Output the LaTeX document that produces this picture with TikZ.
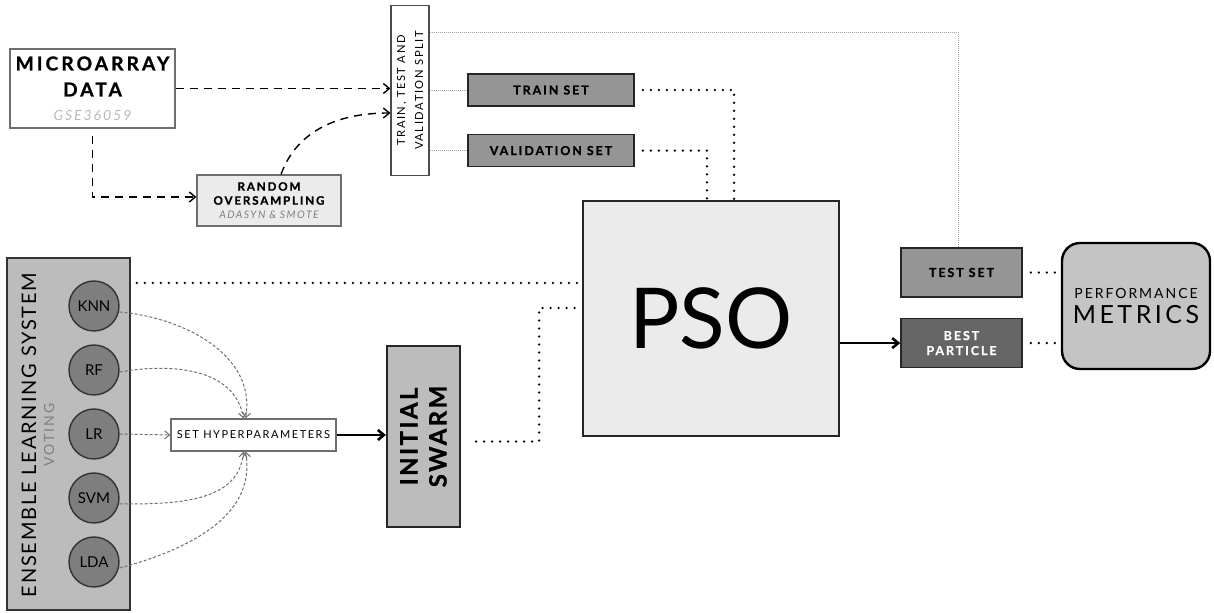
\documentclass[tikz,border=0pt]{standalone}
\usepackage{fontspec}
\setmainfont{Lato}
\newfontfamily\widefont[LetterSpace=14]{Lato}
\newfontfamily\heavyfont[LetterSpace=16, FakeBold=1]{Lato}
\usepackage{tikz}
\usetikzlibrary{arrows.meta,positioning,calc}

\definecolor{setgray}{HTML}{959595}
\definecolor{bestgray}{HTML}{656565}
\definecolor{psogray}{HTML}{EBEBEB}
\definecolor{ensgray}{HTML}{BCBCBC}
\definecolor{metgray}{HTML}{C4C4C4}
\definecolor{modelgray}{HTML}{7E7E7E}
\definecolor{edgegray}{HTML}{6E6E6E}

\begin{document}
\begin{tikzpicture}[
		x=0.5pt, y=-0.5pt,
		box/.style      = {draw=edgegray, rectangle, align=center, inner sep=0pt, line width=0.6pt},
		datbox/.style   = {box, fill=white, minimum width=82.5pt, minimum height=39.5pt},
		sampbox/.style  = {box, fill=psogray, minimum width=72pt, minimum height=25.5pt},
		splitbox/.style = {box, draw=black!70, fill=white, minimum width=85pt, minimum height=19pt, rotate=90},
		setbox/.style   = {box, draw=black!85, fill=setgray, minimum width=83pt, minimum height=16pt, line width=0.8pt},
		psobox/.style   = {box, draw=black!85, fill=psogray, minimum width=128pt, minimum height=117.5pt, line width=0.9pt},
		endbox/.style   = {box, draw=black!85, fill=setgray, minimum width=60.5pt, minimum height=24.5pt, line width=0.8pt},
		metbox/.style   = {box, draw=black, fill=metgray, minimum width=74pt, minimum height=63pt, rounded corners=9pt, line width=1.2pt},
		ensbox/.style   = {box, draw=black!80, fill=ensgray, minimum width=61.5pt, minimum height=176pt, line width=0.8pt},
		model/.style    = {circle, draw=black!80, fill=modelgray, minimum size=25pt, inner sep=0pt, line width=0.7pt, font=\fontsize{7.5}{8}\selectfont},
		hypbox/.style   = {box, fill=white, minimum width=82.5pt, minimum height=16pt},
		swarmbox/.style = {box, draw=black!85, fill=ensgray, minimum width=90.5pt, minimum height=36.5pt, rotate=90, line width=1.1pt},
		heavy/.style    = {font=\heavyfont\bfseries\fontsize{6.2}{7.5}\selectfont},
		dataflow/.style = {->, dash pattern=on 4pt off 3pt, line width=0.7pt},
		dotline/.style  = {line width=1.3pt, line cap=round, dash pattern=on 0pt off 4pt},
		thinline/.style = {gray!70, line width=0.4pt, dash pattern=on 0.5pt off 0.5pt},
		vote/.style     = {->, edgegray, line width=0.5pt, dash pattern=on 1.5pt off 1pt, >={Straight Barb[length=2.5pt,width=4pt]}},
		>={Straight Barb[length=3pt,width=5pt]}]

	\useasboundingbox (0,0) rectangle (1214,613);

	% data preparation
	\node[datbox, font=\heavyfont\bfseries\fontsize{9.6}{13}\selectfont] (micro) at (92.5,88.5)
		{MICROARRAY\\DATA\\[-1pt]\mdseries\itshape\color{gray!55}\widefont\fontsize{7}{9}\selectfont GSE36059};
	\node[sampbox, font=\heavyfont\bfseries\fontsize{5.8}{7}\selectfont] (samp) at (269,200.5)
		{RANDOM\\OVERSAMPLING\\\mdseries\itshape\color{gray}\widefont\fontsize{5.2}{6.5}\selectfont ADASYN \& SMOTE};
	\node[splitbox, font=\widefont\fontsize{5.6}{9}\selectfont] (split) at (410,90.5) {TRAIN, TEST AND\\VALIDATION SPLIT};

	% the three sets
	\node[setbox, heavy] (train) at (551,90) {TRAIN SET};
	\node[setbox, heavy, below=13.5pt of train] (valid) {VALIDATION SET};

	% optimisation
	\node[psobox, font=\fontsize{42}{42}\selectfont] (pso) at (711,318.5) {PSO};
	\node[endbox, heavy] (test) at (961.5,272.5) {TEST SET};
	\node[endbox, heavy, fill=bestgray, text=white, below=10pt of test] (best) {BEST\\PARTICLE};
	\node[metbox, font=\widefont\fontsize{7}{8}\selectfont] (metric) at (1136,306)
		{PERFORMANCE\\[2pt]\fontsize{12.5}{13}\selectfont METRICS};

	% ensemble learning system
	\node[ensbox] (ens) at (68.5,434) {};
	\node[rotate=90, font=\widefont\addfontfeature{LetterSpace=9}\fontsize{10}{12}\selectfont] (enstitle) at (29,435) {ENSEMBLE LEARNING SYSTEM};
	\node[rotate=90, text=gray, font=\widefont\fontsize{7}{8}\selectfont] (voting) at (49,435) {VOTING};
	\foreach \name/\lab [count=\i] in {knn/KNN, rf/RF, lr/LR, svm/SVM, lda/LDA}
		\node[model] (\name) at (94,{242+64*\i}) {\lab};

	\node[hypbox, font=\widefont\fontsize{5.5}{6}\selectfont] (hyp) at (253.5,435) {SET HYPERPARAMETERS};
	\node[swarmbox, font=\heavyfont\addfontfeature{LetterSpace=10}\bfseries\fontsize{12}{14.5}\selectfont] (swarm) at (423.5,436.5) {INITIAL\\SWARM};

	% dashed data flow
	\draw[dataflow] (micro.east) -- (micro.east -| split.north);
	\draw[dataflow] ([yshift=-3.5pt]micro.south) |- ([yshift=1.75pt]samp.west);
	\draw[dataflow] ([xshift=6pt]samp.north) to[out=70,in=180] ([yshift=-11.25pt]split.north);

	% thin links out of the split
	\draw[thinline] (split.south |- train.west) -- (train.west);
	\draw[thinline] (split.south |- valid.west) -- (valid.west);
	\draw[thinline] ([yshift=29.25pt]split.south) -| ([xshift=-1.75pt]test.north);

	% dotted links into pso
	\draw[dotline] ([xshift=4pt]train.east) -| ([xshift=11.5pt]pso.north);
	\draw[dotline] ([xshift=4pt]valid.east) -| ([xshift=-2pt]pso.north);
	\draw[dotline] ([xshift=3pt,yshift=75.5pt]ens.east) -- ([yshift=75.5pt]ens.east -| pso.west);
	\draw[dotline] ([xshift=7.5pt,yshift=-2.5pt]swarm.south) -- ++(63,0) |- ([yshift=5.25pt]pso.west);
	\draw[dotline] ([xshift=4pt]test.east) -- (test.east -| metric.west);
	\draw[dotline] ([xshift=4pt]best.east) -- (best.east -| metric.west);

	% solid arrows
	\draw[->, line width=1.3pt] (hyp.east) -- (hyp.east -| swarm.north);
	\draw[->, line width=1.3pt] (pso.east |- best.west) -- (best.west);

	% models to hyperparameters
	\draw[vote] ([yshift=-3pt]knn.east) to[out=-5,in=80] ([xshift=-4pt]hyp.north);
	\draw[vote] ([yshift=-1pt]rf.east) to[out=10,in=100] ([xshift=-5pt]hyp.north);
	\draw[vote] (lr.east) -- (hyp.west);
	\draw[vote] ([yshift=-3pt]svm.east) to[out=0,in=-95] ([xshift=-5pt]hyp.south);
	\draw[vote] ([yshift=-3pt]lda.east) to[out=15,in=-80] ([xshift=-4pt]hyp.south);
\end{tikzpicture}
\end{document}
